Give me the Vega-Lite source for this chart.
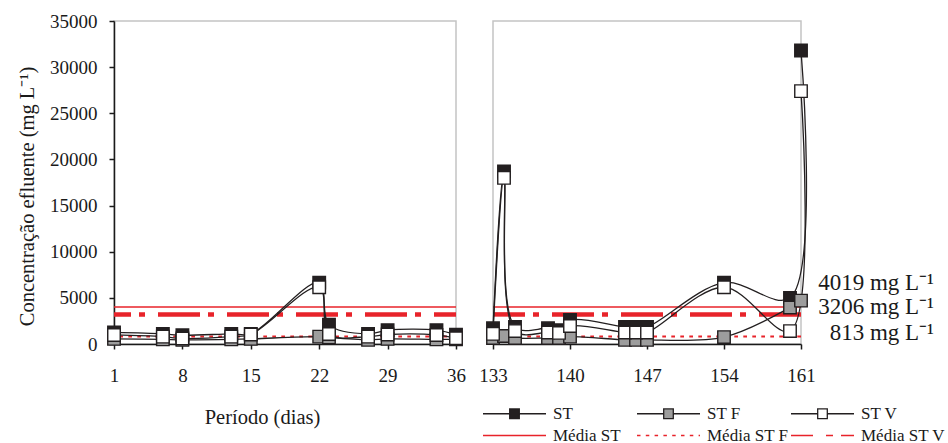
{
  "$schema": "https://vega.github.io/schema/vega-lite/v6.json",
  "background": "white",
  "padding": {"left": 16, "top": 11, "right": 4, "bottom": 4},
  "spacing": 37,
  "bounds": "flush",
  "datasets": {
    "serie": [
      {"dia": 1, "serie": "ST", "valor": 1250},
      {"dia": 6, "serie": "ST", "valor": 1100},
      {"dia": 8, "serie": "ST", "valor": 950},
      {"dia": 13, "serie": "ST", "valor": 1100},
      {"dia": 15, "serie": "ST", "valor": 1100},
      {"dia": 22, "serie": "ST", "valor": 6650},
      {"dia": 23, "serie": "ST", "valor": 2100},
      {"dia": 27, "serie": "ST", "valor": 1100},
      {"dia": 29, "serie": "ST", "valor": 1500},
      {"dia": 34, "serie": "ST", "valor": 1500},
      {"dia": 36, "serie": "ST", "valor": 1000},
      {"dia": 133, "serie": "ST", "valor": 1700},
      {"dia": 134, "serie": "ST", "valor": 18700},
      {"dia": 135, "serie": "ST", "valor": 1850},
      {"dia": 138, "serie": "ST", "valor": 1700},
      {"dia": 139, "serie": "ST", "valor": 1500},
      {"dia": 140, "serie": "ST", "valor": 2600},
      {"dia": 145, "serie": "ST", "valor": 1850},
      {"dia": 146, "serie": "ST", "valor": 1850},
      {"dia": 147, "serie": "ST", "valor": 1850},
      {"dia": 154, "serie": "ST", "valor": 6650},
      {"dia": 160, "serie": "ST", "valor": 5000},
      {"dia": 161, "serie": "ST", "valor": 31800},
      {"dia": 1, "serie": "ST F", "valor": 550},
      {"dia": 6, "serie": "ST F", "valor": 500},
      {"dia": 8, "serie": "ST F", "valor": 450},
      {"dia": 13, "serie": "ST F", "valor": 500},
      {"dia": 15, "serie": "ST F", "valor": 550},
      {"dia": 22, "serie": "ST F", "valor": 800},
      {"dia": 23, "serie": "ST F", "valor": 700},
      {"dia": 27, "serie": "ST F", "valor": 450},
      {"dia": 29, "serie": "ST F", "valor": 550},
      {"dia": 34, "serie": "ST F", "valor": 500},
      {"dia": 36, "serie": "ST F", "valor": 500},
      {"dia": 133, "serie": "ST F", "valor": 650},
      {"dia": 134, "serie": "ST F", "valor": 870},
      {"dia": 135, "serie": "ST F", "valor": 650},
      {"dia": 138, "serie": "ST F", "valor": 650},
      {"dia": 139, "serie": "ST F", "valor": 650},
      {"dia": 140, "serie": "ST F", "valor": 800},
      {"dia": 145, "serie": "ST F", "valor": 450},
      {"dia": 146, "serie": "ST F", "valor": 450},
      {"dia": 147, "serie": "ST F", "valor": 450},
      {"dia": 154, "serie": "ST F", "valor": 750},
      {"dia": 160, "serie": "ST F", "valor": 3950},
      {"dia": 161, "serie": "ST F", "valor": 4700},
      {"dia": 1, "serie": "ST V", "valor": 980},
      {"dia": 6, "serie": "ST V", "valor": 800},
      {"dia": 8, "serie": "ST V", "valor": 600},
      {"dia": 13, "serie": "ST V", "valor": 800},
      {"dia": 15, "serie": "ST V", "valor": 1030},
      {"dia": 22, "serie": "ST V", "valor": 6150},
      {"dia": 23, "serie": "ST V", "valor": 1080},
      {"dia": 27, "serie": "ST V", "valor": 800},
      {"dia": 29, "serie": "ST V", "valor": 1030},
      {"dia": 34, "serie": "ST V", "valor": 980},
      {"dia": 36, "serie": "ST V", "valor": 620},
      {"dia": 133, "serie": "ST V", "valor": 1100},
      {"dia": 134, "serie": "ST V", "valor": 18000},
      {"dia": 135, "serie": "ST V", "valor": 1400},
      {"dia": 138, "serie": "ST V", "valor": 1250},
      {"dia": 139, "serie": "ST V", "valor": 1200},
      {"dia": 140, "serie": "ST V", "valor": 1950},
      {"dia": 145, "serie": "ST V", "valor": 1250},
      {"dia": 146, "serie": "ST V", "valor": 1250},
      {"dia": 147, "serie": "ST V", "valor": 1250},
      {"dia": 154, "serie": "ST V", "valor": 6150},
      {"dia": 160, "serie": "ST V", "valor": 1400},
      {"dia": 161, "serie": "ST V", "valor": 27400}
    ],
    "medias": [
      {"serie": "Média ST", "valor": 4019, "rotulo": "4019 mg L⁻¹"},
      {"serie": "Média ST F", "valor": 813, "rotulo": "813 mg L⁻¹"},
      {"serie": "Média ST V", "valor": 3206, "rotulo": "3206 mg L⁻¹"}
    ],
    "legenda": [
      {"serie": "ST"},
      {"serie": "ST F"},
      {"serie": "ST V"},
      {"serie": "Média ST"},
      {"serie": "Média ST F"},
      {"serie": "Média ST V"}
    ]
  },
  "config": {
    "font": "Liberation Serif",
    "view": {"stroke": "#c4c4c4", "strokeWidth": 1.5},
    "axis": {
      "grid": false,
      "domainColor": "#1a1a1a",
      "domainWidth": 1.5,
      "tickColor": "#1a1a1a",
      "tickWidth": 1.5,
      "tickSize": 5,
      "labelFont": "Liberation Serif",
      "labelFontSize": 19,
      "labelColor": "#1a1a1a",
      "titleFont": "Liberation Serif",
      "titleFontSize": 20.5,
      "titleFontWeight": "normal",
      "titleColor": "#1a1a1a"
    },
    "legend": {
      "labelFont": "Liberation Serif",
      "labelFontSize": 17,
      "labelColor": "#1a1a1a"
    }
  },
  "hconcat": [
    {
      "width": 342,
      "height": 323,
      "layer": [
        {
          "data": {"name": "medias"},
          "transform": [{"filter": "datum.serie === 'Média ST'"}],
          "mark": {"type": "rule", "color": "#e8232a", "strokeWidth": 1.5},
          "encoding": {
            "y": {
              "field": "valor",
              "type": "quantitative",
              "scale": {"domain": [0, 35000], "nice": false},
              "axis": {
                "values": [0, 5000, 10000, 15000, 20000, 25000, 30000, 35000],
                "format": "d",
                "labelPadding": 12,
                "title": "Concentração efluente (mg L⁻¹)",
                "titlePadding": 12,
                "titleY": 175
              }
            }
          }
        },
        {
          "data": {"name": "medias"},
          "transform": [{"filter": "datum.serie === 'Média ST F'"}],
          "mark": {"type": "rule", "color": "#e8232a", "strokeWidth": 2, "strokeDash": [3.7, 5.3]},
          "encoding": {"y": {"field": "valor", "type": "quantitative"}}
        },
        {
          "data": {"name": "medias"},
          "transform": [{"filter": "datum.serie === 'Média ST V'"}],
          "mark": {"type": "rule", "color": "#e8232a", "strokeWidth": 4.5, "strokeDash": [42, 13, 6, 8], "strokeDashOffset": 20},
          "encoding": {"y": {"field": "valor", "type": "quantitative"}}
        },
        {
          "data": {"name": "serie"},
          "transform": [{"filter": "datum.dia <= 36"}],
          "mark": {"type": "line", "interpolate": "catmull-rom", "color": "#231f20", "strokeWidth": 1.3},
          "encoding": {
            "x": {
              "field": "dia",
              "type": "quantitative",
              "scale": {"domain": [1, 36], "nice": false, "zero": false},
              "axis": {
                "values": [1, 8, 15, 22, 29, 36],
                "labelFlush": false,
                "labelPadding": 17,
                "title": "Período (dias)",
                "titlePadding": 22,
                "titleX": 148
              }
            },
            "y": {"field": "valor", "type": "quantitative"},
            "detail": {"field": "serie"}
          }
        },
        {
          "data": {"name": "serie"},
          "transform": [{"filter": "datum.dia <= 36"}],
          "mark": {"type": "square", "size": 156, "opacity": 1, "stroke": "#231f20", "strokeWidth": 1.4},
          "encoding": {
            "x": {"field": "dia", "type": "quantitative"},
            "y": {"field": "valor", "type": "quantitative"},
            "fill": {
              "field": "serie",
              "type": "nominal",
              "scale": {
                "domain": ["ST", "ST F", "ST V", "Média ST", "Média ST F", "Média ST V"],
                "range": ["#231f20", "#9d9d9d", "#ffffff", "#ffffff", "#ffffff", "#ffffff"]
              }
            }
          }
        }
      ]
    },
    {
      "width": 308,
      "height": 323,
      "layer": [
        {
          "data": {"name": "medias"},
          "transform": [{"filter": "datum.serie === 'Média ST'"}],
          "mark": {"type": "rule", "color": "#e8232a", "strokeWidth": 1.5},
          "encoding": {
            "y": {
              "field": "valor",
              "type": "quantitative",
              "scale": {"domain": [0, 35000], "nice": false},
              "axis": null
            }
          }
        },
        {
          "data": {"name": "medias"},
          "transform": [{"filter": "datum.serie === 'Média ST F'"}],
          "mark": {"type": "rule", "color": "#e8232a", "strokeWidth": 2, "strokeDash": [3.7, 5.3]},
          "encoding": {"y": {"field": "valor", "type": "quantitative"}}
        },
        {
          "data": {"name": "medias"},
          "transform": [{"filter": "datum.serie === 'Média ST V'"}],
          "mark": {"type": "rule", "color": "#e8232a", "strokeWidth": 4.5, "strokeDash": [42, 13, 6, 8]},
          "encoding": {"y": {"field": "valor", "type": "quantitative"}}
        },
        {
          "data": {"name": "serie"},
          "transform": [{"filter": "datum.dia >= 133"}],
          "mark": {"type": "line", "interpolate": "catmull-rom", "color": "#231f20", "strokeWidth": 1.3},
          "encoding": {
            "x": {
              "field": "dia",
              "type": "quantitative",
              "scale": {"domain": [133, 161], "nice": false, "zero": false},
              "axis": {
                "values": [133, 140, 147, 154, 161],
                "labelFlush": false,
                "labelPadding": 17,
                "title": null
              }
            },
            "y": {"field": "valor", "type": "quantitative"},
            "detail": {"field": "serie"}
          }
        },
        {
          "data": {"name": "serie"},
          "transform": [{"filter": "datum.dia >= 133"}],
          "mark": {"type": "square", "size": 156, "opacity": 1, "stroke": "#231f20", "strokeWidth": 1.4},
          "encoding": {
            "x": {"field": "dia", "type": "quantitative"},
            "y": {"field": "valor", "type": "quantitative"},
            "fill": {
              "field": "serie",
              "type": "nominal",
              "scale": {
                "domain": ["ST", "ST F", "ST V", "Média ST", "Média ST F", "Média ST V"],
                "range": ["#231f20", "#9d9d9d", "#ffffff", "#ffffff", "#ffffff", "#ffffff"]
              }
            }
          }
        },
        {
          "data": {"name": "medias"},
          "transform": [{"filter": "datum.serie === 'Média ST'"}],
          "mark": {"type": "text", "align": "right", "baseline": "middle", "dx": 133, "dy": -24, "fontSize": 23, "color": "#1a1a1a"},
          "encoding": {
            "x": {"datum": 161, "type": "quantitative"},
            "y": {"field": "valor", "type": "quantitative"},
            "text": {"field": "rotulo"}
          }
        },
        {
          "data": {"name": "medias"},
          "transform": [{"filter": "datum.serie === 'Média ST V'"}],
          "mark": {"type": "text", "align": "right", "baseline": "middle", "dx": 133, "dy": -7, "fontSize": 23, "color": "#1a1a1a"},
          "encoding": {
            "x": {"datum": 161, "type": "quantitative"},
            "y": {"field": "valor", "type": "quantitative"},
            "text": {"field": "rotulo"}
          }
        },
        {
          "data": {"name": "medias"},
          "transform": [{"filter": "datum.serie === 'Média ST F'"}],
          "mark": {"type": "text", "align": "right", "baseline": "middle", "dx": 133, "dy": -3.5, "fontSize": 23, "color": "#1a1a1a"},
          "encoding": {
            "x": {"datum": 161, "type": "quantitative"},
            "y": {"field": "valor", "type": "quantitative"},
            "text": {"field": "rotulo"}
          }
        },
        {
          "data": {"name": "legenda"},
          "mark": {"type": "point", "size": 0, "filled": true, "opacity": 1},
          "encoding": {
            "shape": {
              "field": "serie",
              "type": "nominal",
              "scale": {
                "domain": ["ST", "ST F", "ST V", "Média ST", "Média ST F", "Média ST V"],
                "range": [
                  "M-5.25,0H-0.8M0.8,0H5.25M-0.8,-0.8H0.8V0.8H-0.8Z",
                  "M-5.25,0H-0.8M0.8,0H5.25M-0.8,-0.8H0.8V0.8H-0.8Z",
                  "M-5.25,0H-0.8M0.8,0H5.25M-0.8,-0.8H0.8V0.8H-0.8Z",
                  "M-5.25,0H5.25",
                  "M-5.25,0H5.25",
                  "M-5.25,0H5.25"
                ]
              },
              "legend": {
                "orient": "none",
                "direction": "horizontal",
                "legendX": 392,
                "legendY": 384,
                "columns": 3,
                "gridAlign": "all",
                "columnPadding": -4,
                "rowPadding": 4,
                "symbolSize": 144,
                "labelOffset": 30,
                "title": null,
                "encode": {"symbols": {"update": {"opacity": {"value": 1}, "size": {"value": 144}}}}
              }
            },
            "fill": {
              "field": "serie",
              "type": "nominal",
              "scale": {
                "domain": ["ST", "ST F", "ST V", "Média ST", "Média ST F", "Média ST V"],
                "range": ["#231f20", "#9d9d9d", "#ffffff", "#ffffff", "#ffffff", "#ffffff"]
              }
            },
            "stroke": {
              "field": "serie",
              "type": "nominal",
              "scale": {
                "domain": ["ST", "ST F", "ST V", "Média ST", "Média ST F", "Média ST V"],
                "range": ["#231f20", "#231f20", "#231f20", "#e8232a", "#e8232a", "#e8232a"]
              }
            },
            "strokeDash": {
              "field": "serie",
              "type": "nominal",
              "scale": {
                "domain": ["ST", "ST F", "ST V", "Média ST", "Média ST F", "Média ST V"],
                "range": [[1, 0], [1, 0], [1, 0], [1, 0], [3.5, 5.3], [22, 13, 7, 8]]
              }
            },
            "strokeWidth": {
              "field": "serie",
              "type": "nominal",
              "scale": {
                "domain": ["ST", "ST F", "ST V", "Média ST", "Média ST F", "Média ST V"],
                "range": [1.3, 1.3, 1.3, 1.5, 2, 4.5]
              }
            }
          }
        }
      ]
    }
  ]
}
